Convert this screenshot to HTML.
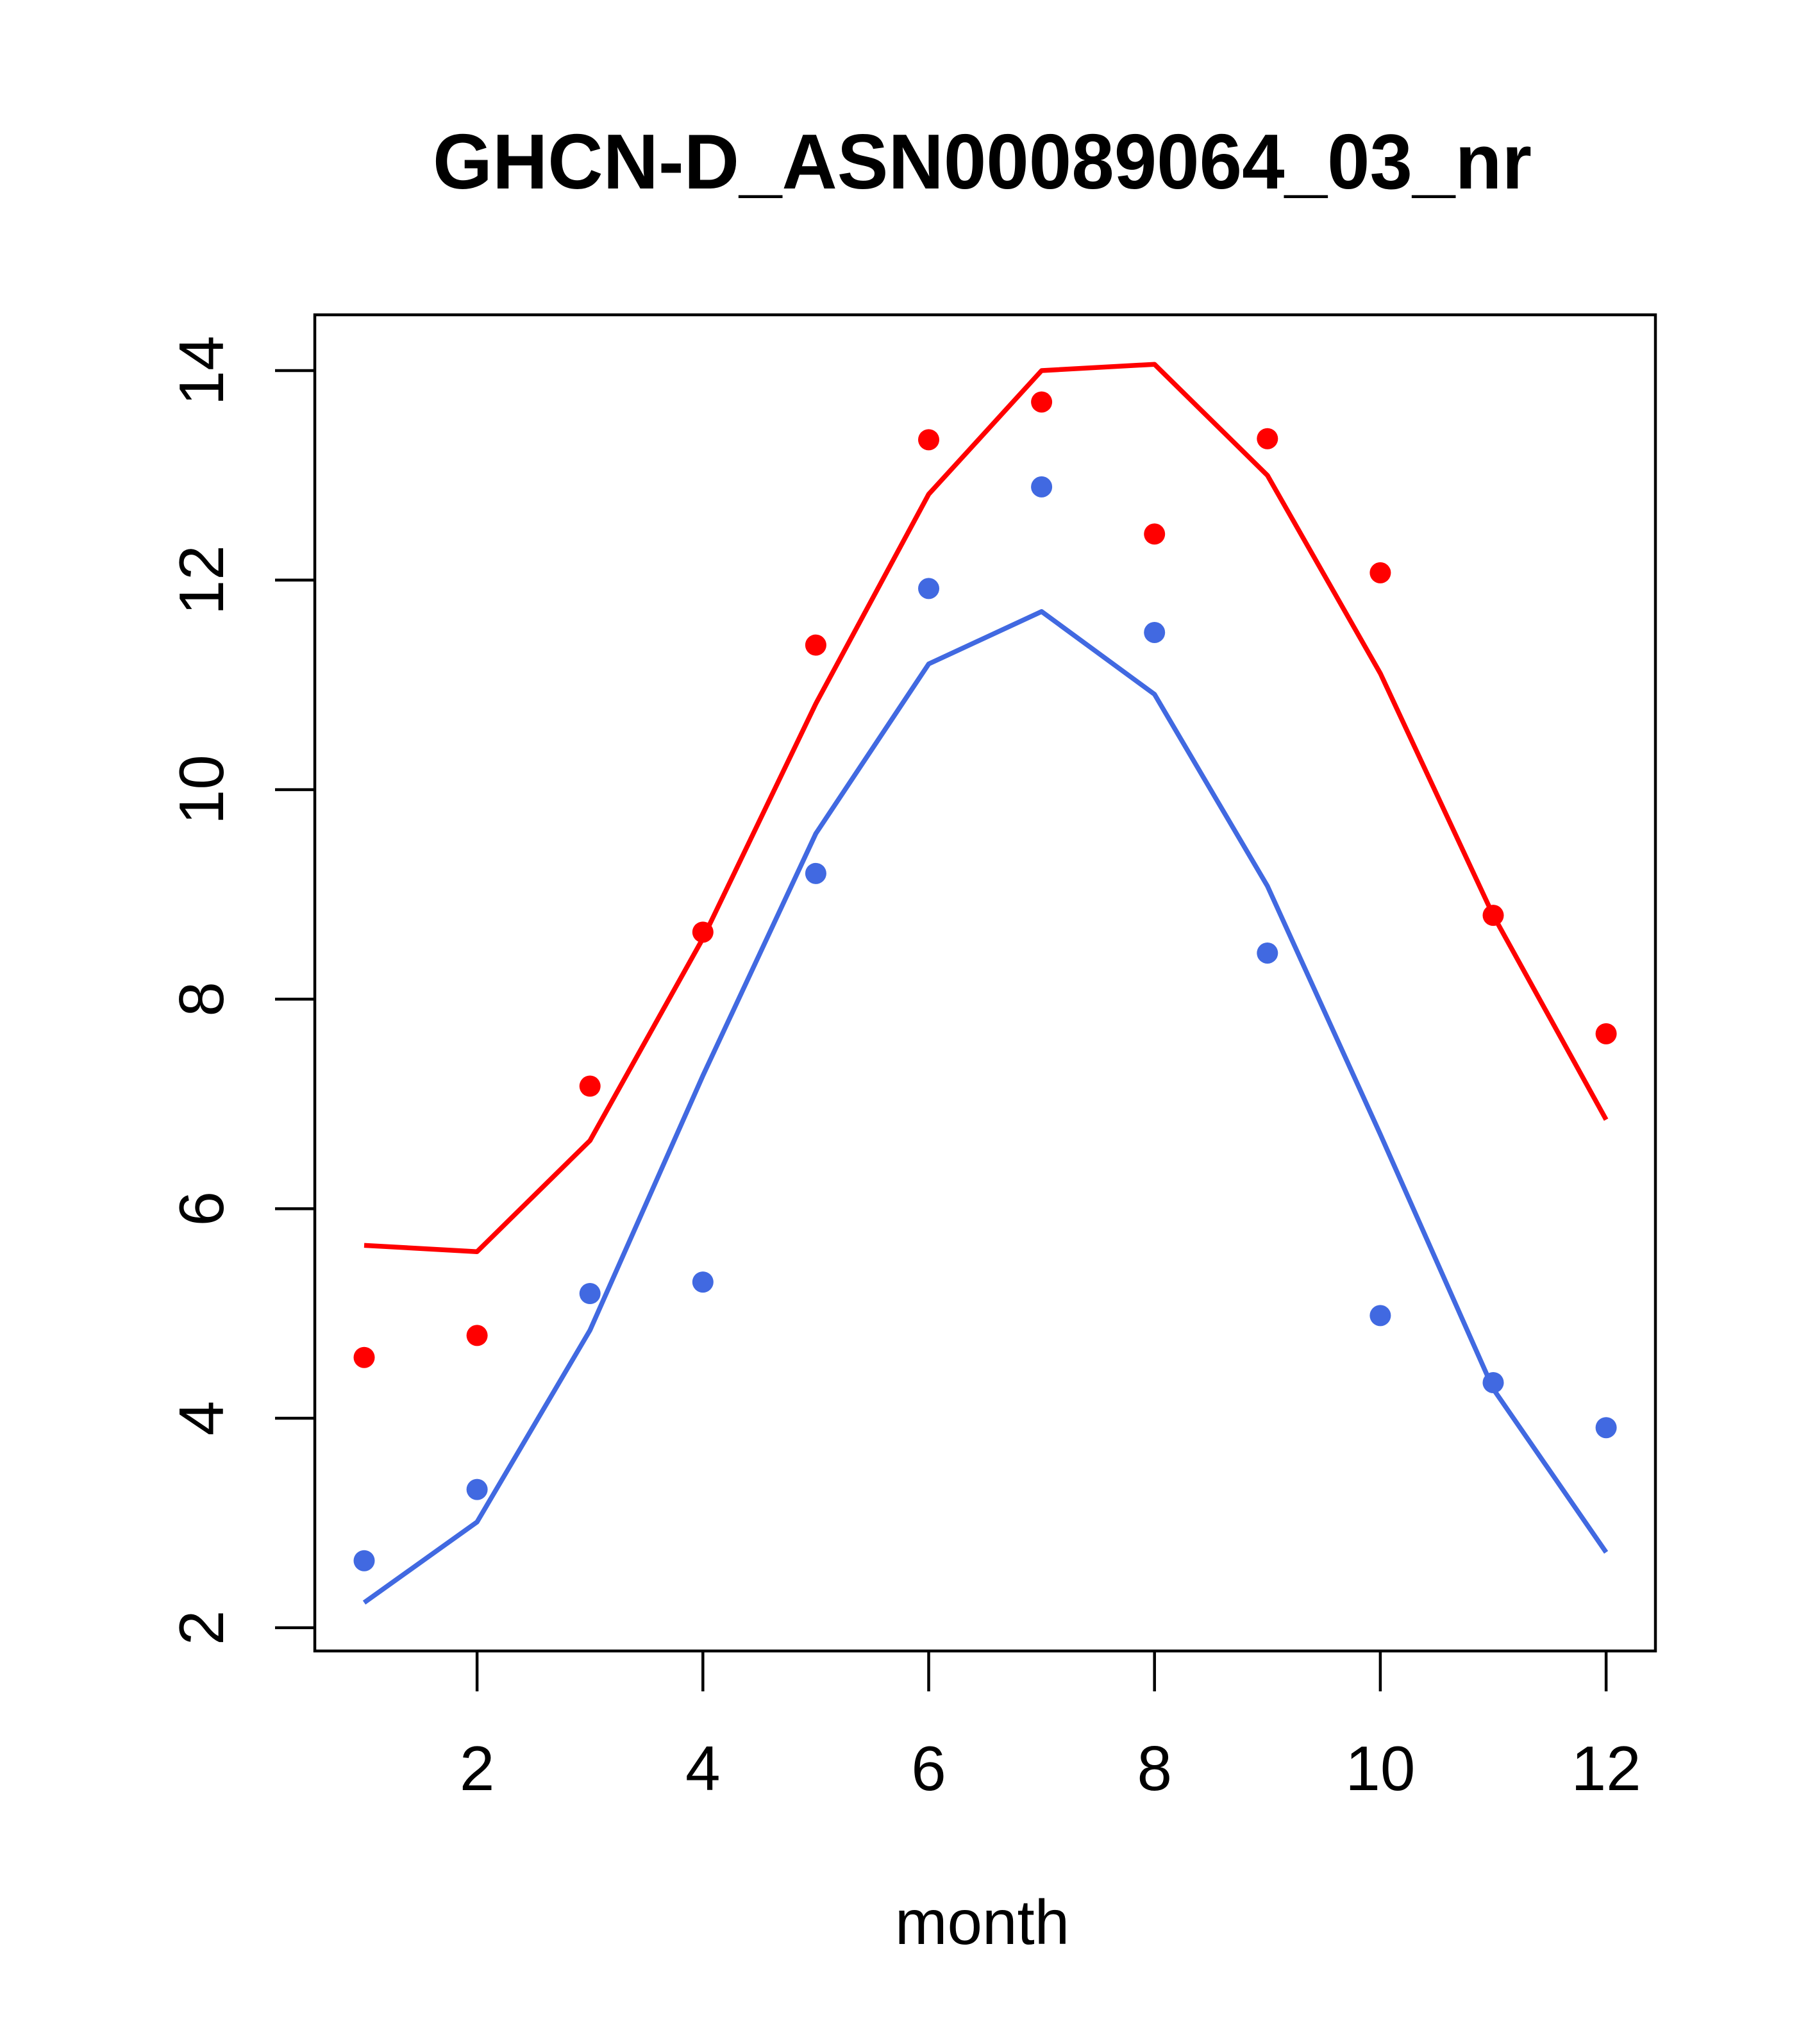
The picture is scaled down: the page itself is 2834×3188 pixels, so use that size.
<!DOCTYPE html>
<html><head><meta charset="utf-8"><style>html,body{margin:0;padding:0;background:#fff}svg{display:block}</style></head>
<body>
<svg id="chart" width="2834" height="3188" viewBox="0 0 2834 3188" xmlns="http://www.w3.org/2000/svg" font-family="'Liberation Sans', Arial, sans-serif">
<rect width="2834" height="3188" fill="#fff"/>
<text x="1532" y="294" text-anchor="middle" font-size="122" font-weight="bold" textLength="1714" lengthAdjust="spacingAndGlyphs">GHCN-D_ASN00089064_03_nr</text>
<g id="marks"></g>
<rect x="491" y="491" width="2091" height="2084" fill="none" stroke="#000" stroke-width="4.5"/>
<g id="axes"></g>
<text x="1532" y="3032" text-anchor="middle" font-size="98">month</text>
</svg>
<script>
const months=[1,2,3,4,5,6,7,8,9,10,11,12];
const redPoints=[4.58,4.79,7.17,8.64,11.38,13.34,13.70,12.44,13.35,12.07,8.80,7.67];
const redLine=[5.65,5.59,6.65,8.58,10.82,12.82,14.0,14.06,13.0,11.11,8.80,6.85];
const bluePoints=[2.64,3.32,5.19,5.30,9.20,11.92,12.89,11.50,8.44,4.98,4.34,3.91];
const blueLine=[2.24,3.01,4.84,7.27,9.58,11.20,11.70,10.91,9.08,6.71,4.28,2.72];
const xTicks=[2,4,6,8,10,12];
const yTicks=[2,4,6,8,10,12,14];
const NS='http://www.w3.org/2000/svg';
function xs(v){return 568+(v-1)*176.1;}
function ys(v){return 578+(14-v)*163.4;}
const marks=document.getElementById('marks'),axes=document.getElementById('axes');
function mk(t,a,p){const e=document.createElementNS(NS,t);for(const k in a)e.setAttribute(k,a[k]);p.appendChild(e);return e;}
function line(vals,color,name){
  const pl=mk('polyline',{points:vals.map((v,i)=>xs(months[i])+','+ys(v)).join(' '),fill:'none',stroke:color,'stroke-width':7.5,'stroke-linejoin':'round'},marks);
  
  
}
function pts(vals,color,name){
  vals.forEach((v,i)=>{const c=mk('circle',{cx:xs(months[i]),cy:ys(v),r:16.5,fill:color},marks);
  
  });
}
line(redLine,'#FF0000','red-line');
line(blueLine,'#4169E1','blue-line');
pts(redPoints,'#FF0000','red-point');
pts(bluePoints,'#4169E1','blue-point');
xTicks.forEach(t=>{
  const l=mk('line',{x1:xs(t),x2:xs(t),y1:2575,y2:2638,stroke:'#000','stroke-width':4.5},axes);
  
  
  const tx=mk('text',{x:xs(t),y:2792,'text-anchor':'middle','font-size':98},axes);tx.textContent=t;
  
  
});
yTicks.forEach(t=>{
  const l=mk('line',{x1:491,x2:429,y1:ys(t),y2:ys(t),stroke:'#000','stroke-width':4.5},axes);
  
  
  const tx=mk('text',{x:0,y:0,'text-anchor':'middle','font-size':98,transform:'translate(348,'+ys(t)+') rotate(-90)'},axes);tx.textContent=t;
  
  
});
</script>
</body></html>
